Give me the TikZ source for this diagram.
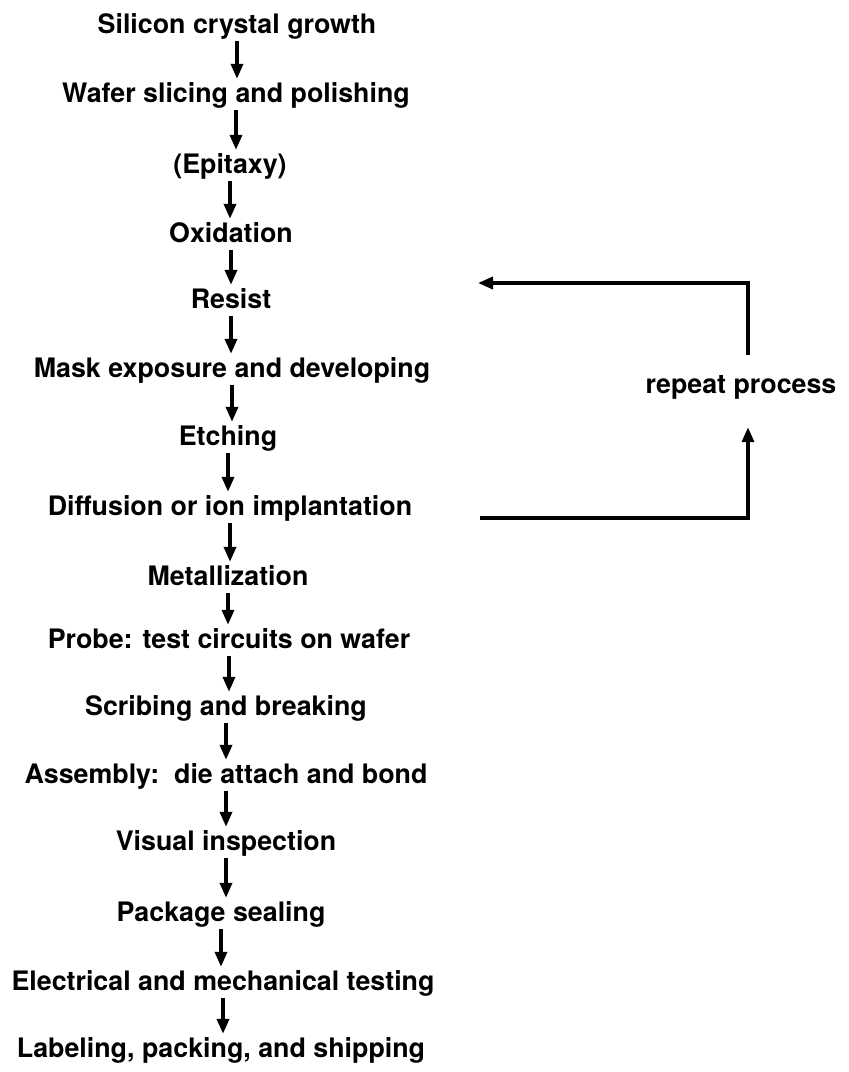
\documentclass[tikz,border=0pt]{standalone}
\usepackage{fontspec}
\setmainfont{TeX Gyre Heros}
\usetikzlibrary{arrows.meta}
\begin{document}
\begin{tikzpicture}[x=1pt,y=-1pt,
  stepnode/.style={font=\bfseries\fontsize{26.8}{30}\selectfont, inner sep=0pt, anchor=base, text height=20pt, text depth=6pt},
  flow/.style={line width=3.5pt, -{Triangle[length=15pt,width=12pt]}, shorten <=2pt, shorten >=3pt},
  loopline/.style={line width=3.5pt, -{Triangle[length=15pt,width=12pt]}},
]
\useasboundingbox (0,0) rectangle (849,1072);
\node[stepnode] (s1) at (237,33) {Silicon crystal growth};
\node[stepnode] (s2) at (236,102) {Wafer slicing and polishing};
\node[stepnode] (s3) at (230,173) {(Epitaxy)};
\node[stepnode] (s4) at (231,242) {Oxidation};
\node[stepnode] (s5) at (231,308) {Resist};
\node[stepnode] (s6) at (232,377) {Mask exposure and developing};
\node[stepnode] (s7) at (228,445) {Etching};
\node[stepnode] (s8) at (230,515) {Diffusion or ion implantation};
\node[stepnode] (s9) at (228,585) {Metallization};
\node[stepnode] (s10) at (229,648) {Probe: test circuits on wafer};
\node[stepnode] (s11) at (226,715) {Scribing and breaking};
\node[stepnode] (s12) at (226,783) {Assembly:\ \ die attach and bond};
\node[stepnode] (s13) at (226,850) {Visual inspection};
\node[stepnode] (s14) at (221,921) {Package sealing};
\node[stepnode] (s15) at (223,990) {Electrical and mechanical testing};
\node[stepnode] (s16) at (221,1057) {Labeling, packing, and shipping};
\node[stepnode] (rp) at (741,393) {repeat process};

\foreach \a/\b in {s1/s2,s2/s3,s3/s4,s4/s5,s5/s6,s6/s7,s7/s8,s8/s9,s9/s10,s10/s11,s11/s12,s12/s13,s13/s14,s14/s15,s15/s16}
  \draw[flow] (\a.south) -- (\a.south |- \b.north);

\coordinate (loopstart) at (480,518);
\coordinate (loopend) at (478,283);
\draw[loopline] (loopstart) -| ([shift={(7,28)}]rp.south);
\draw[loopline] ([shift={(7,-18)}]rp.north) |- (loopend);
\end{tikzpicture}
\end{document}
